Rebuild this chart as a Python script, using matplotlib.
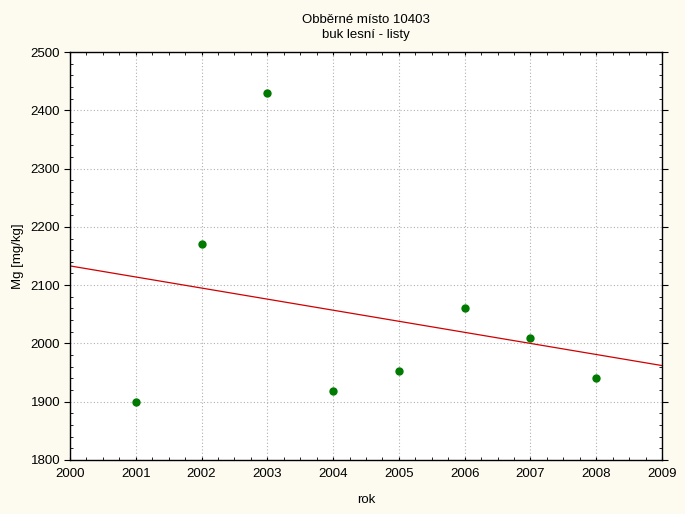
import numpy as np
import matplotlib.pyplot as plt
from matplotlib.ticker import MultipleLocator

plt.rcParams['font.family'] = ['Liberation Sans', 'DejaVu Sans']

# data
roky = [2001, 2002, 2003, 2004, 2005, 2006, 2007, 2008]
mg = [1900, 2170, 2430, 1918, 1952, 2060, 2010, 1940]

# linear regression line
k, q = np.polyfit(roky, mg, 1)
xr = np.array([2000, 2009])

fig = plt.figure(figsize=(6.85, 5.14), dpi=100, facecolor='#fdfbf0')
ax = fig.add_axes([0.1022, 0.1051, 0.8642, 0.7937])
ax.set_facecolor('white')

ax.plot(xr, k * xr + q, color='#d00000', lw=0.9, zorder=2)
ax.plot(roky, mg, 'o', color='#007a00', ms=5, zorder=3)

ax.set_xlim(2000, 2009)
ax.set_ylim(1800, 2500)
ax.xaxis.set_major_locator(MultipleLocator(1))
ax.xaxis.set_minor_locator(MultipleLocator(0.25))
ax.yaxis.set_major_locator(MultipleLocator(100))
ax.yaxis.set_minor_locator(MultipleLocator(20))
ax.grid(True, which='major', color='#b0b0b0', linestyle=(0, (1, 2)), lw=0.8)

ax.tick_params(which='both', direction='in', length=2.5, top=True, right=True,
               labelsize=9.5)
ax.tick_params(axis='x', which='major', pad=6)
ax.tick_params(axis='y', which='major', left=True, direction='out', length=4, pad=3)
for s in ax.spines.values():
    s.set_linewidth(1.0)

ax.set_title('Obběrné místo 10403\nbuk lesní - listy', fontsize=9.5, pad=10, linespacing=1.35)
ax.set_xlabel('rok', fontsize=9.5, labelpad=10)
ax.set_ylabel('Mg [mg/kg]', fontsize=9.5, labelpad=5)

fig.savefig('out.png', dpi=100, facecolor=fig.get_facecolor())
